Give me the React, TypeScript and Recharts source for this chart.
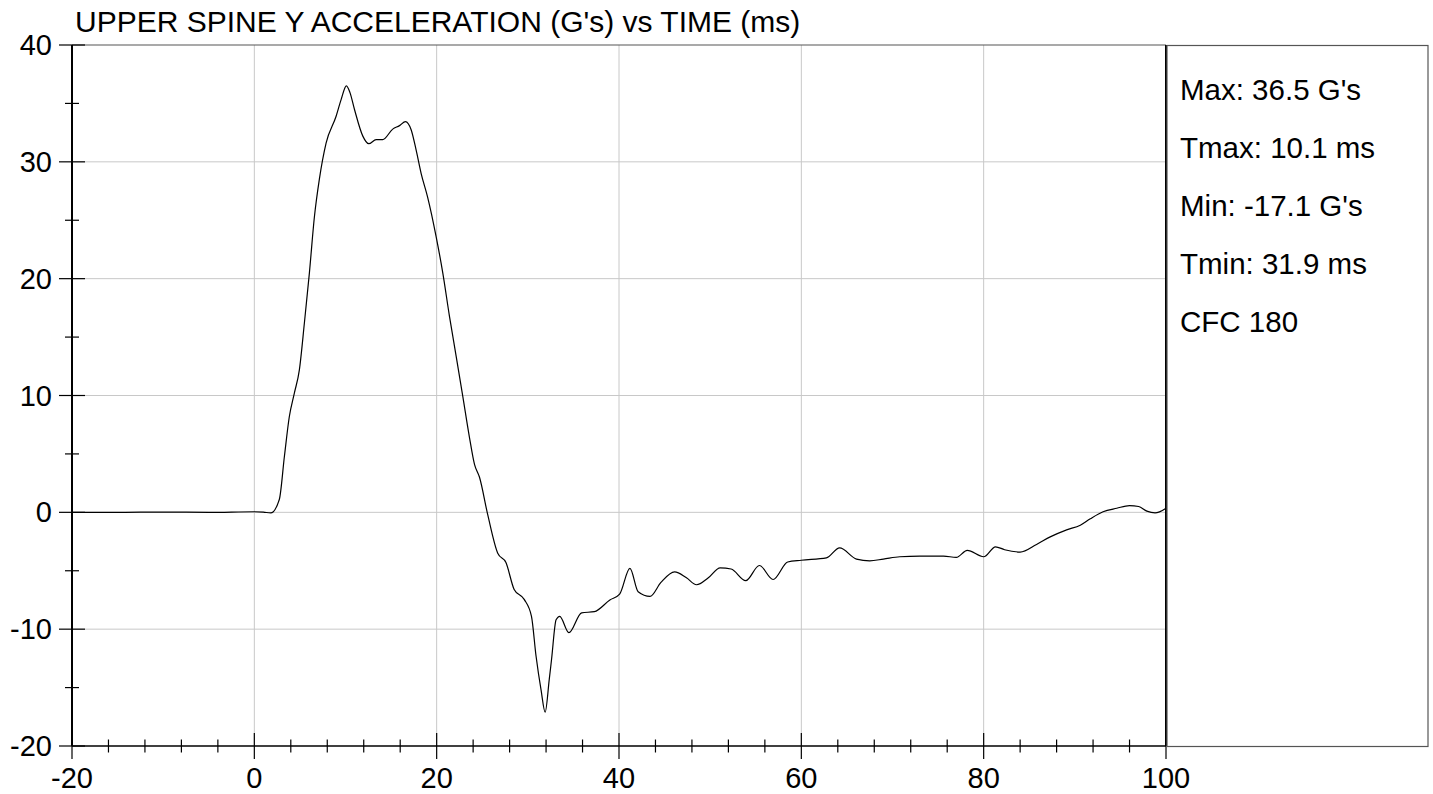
import { LineChart, Line, XAxis, YAxis, ReferenceLine } from "recharts";

// time (ms) and upper spine Y acceleration (G's)
const TIME = [
  -20, -15, -10, -5, 0, 1, 1.8, 2.74, 3.3, 3.84, 4.39, 4.94, 5.49, 6.04, 6.59, 7.13, 7.87, 8.97, 9.51, 10.1,
  10.5, 10.98, 11.9, 12.55, 13.36, 14.08, 15.18, 15.92, 16.58, 17.2, 17.75, 18.3, 19.0, 19.94, 20.67, 21.4,
  22.14, 22.87, 23.6, 24.15, 24.7, 25.6, 26.7, 27.6, 28.5, 29.6, 30.4, 30.9, 31.45, 31.9, 32.35, 32.6, 33.1,
  33.5, 34.5, 35.9, 37.3, 39.0, 40.07, 41.2, 42.1, 43.4, 44.6, 46.1, 47.4, 48.5, 49.8, 51.1, 52.3, 53.9,
  55.4, 56.9, 58.5, 60.0, 62.75, 64.2, 66.05, 67.5, 69.0, 70.8, 73.0, 75.6, 77.0, 78.2, 80.0, 81.3, 82.3,
  84.0, 85.8, 87.3, 89.1, 90.6, 91.7, 93.1, 94.6, 96.0, 97.0, 97.9, 98.8, 100,
];
const ACCEL = [
  0, 0, 0.02, 0, 0.05, 0.02, -0.05, 1.1, 4.8, 8.2, 10.2, 12.2, 16.2, 20.5, 25.3, 28.5, 31.6, 33.9, 35.3, 36.5,
  35.9, 34.5, 32.2, 31.55, 31.9, 31.9, 32.8, 33.1, 33.45, 32.75, 31.0, 29.0, 27.0, 23.6, 20.5, 16.8,
  13.35, 9.9, 6.4, 4.1, 3.0, -0.2, -3.5, -4.3, -6.6, -7.45, -8.9, -12.3, -15.2, -17.1, -14.3, -12.6, -9.2,
  -8.9, -10.3, -8.6, -8.5, -7.5, -7.0, -4.8, -6.8, -7.2, -6.0, -5.1, -5.6, -6.2, -5.6, -4.75, -4.85, -5.85,
  -4.55, -5.75, -4.25, -4.1, -3.9, -3.05, -4.0, -4.15, -4.0, -3.8, -3.75, -3.75, -3.85, -3.25, -3.8, -2.95, -3.2,
  -3.4, -2.75, -2.1, -1.5, -1.1, -0.55, 0.05, 0.35, 0.58, 0.5, 0.1, -0.05, 0.35,
];

const X_TICKS = [-20, -16, -12, -8, -4, 0, 4, 8, 12, 16, 20, 24, 28, 32, 36, 40, 44, 48, 52, 56, 60, 64, 68, 72, 76, 80, 84, 88, 92, 96, 100];
const Y_TICKS = [-20, -15, -10, -5, 0, 5, 10, 15, 20, 25, 30, 35, 40];
const X_GRID = [0, 20, 40, 60, 80];
const Y_GRID = [-10, 0, 10, 20, 30];

const TITLE = "UPPER SPINE Y ACCELERATION (G's) vs TIME (ms)";
const STATS = ["Max: 36.5 G's", "Tmax: 10.1 ms", "Min: -17.1 G's", "Tmin: 31.9 ms", "CFC 180"];

const FONT = "'Liberation Sans', Arial, sans-serif";

const data = TIME.map((t, i) => ({ t, g: ACCEL[i] }));

const XTick = (props: any) => {
  const { x, y, payload } = props;
  const major = payload.value % 20 === 0;
  const h = major ? 13 : 6.5;
  return (
    <g>
      <line x1={x} x2={x} y1={y - h} y2={y + h} stroke="#000" strokeWidth={1.2} />
      {major && (
        <text x={x} y={y + 42} textAnchor="middle" fontSize={29} fontFamily={FONT} fill="#000">
          {payload.value}
        </text>
      )}
    </g>
  );
};

const YTick = (props: any) => {
  const { x, y, payload } = props;
  const major = payload.value % 10 === 0;
  const w = major ? 13 : 7;
  return (
    <g>
      <line x1={x - w} x2={x + w} y1={y} y2={y} stroke="#000" strokeWidth={1.2} />
      {major && (
        <text x={x - 20} y={y + 10} textAnchor="end" fontSize={29} fontFamily={FONT} fill="#000">
          {payload.value}
        </text>
      )}
    </g>
  );
};

export default function App() {
  return (
    <div style={{ position: "relative", width: 1433, height: 794, background: "#fff" }}>
      <style>{"body{margin:0}"}</style>
      <LineChart width={1433} height={794} data={data} margin={{ top: 45, right: 267, bottom: 0, left: 0 }}>
        <XAxis
          dataKey="t"
          type="number"
          domain={[-20, 100]}
          ticks={X_TICKS}
          interval={0}
          height={48}
          tickSize={0}
          tickMargin={0}
          tickLine={false}
          tick={<XTick />}
          axisLine={{ stroke: "#000", strokeWidth: 1.5 }}
          allowDataOverflow
        />
        <YAxis
          type="number"
          domain={[-20, 40]}
          ticks={Y_TICKS}
          interval={0}
          width={72}
          tickSize={0}
          tickMargin={0}
          tickLine={false}
          tick={<YTick />}
          axisLine={{ stroke: "#000", strokeWidth: 2 }}
          allowDataOverflow
        />
        {X_GRID.map((v) => (
          <ReferenceLine key={"x" + v} x={v} stroke="#c8c8c8" strokeWidth={1} />
        ))}
        {Y_GRID.map((v) => (
          <ReferenceLine key={"y" + v} y={v} stroke="#c8c8c8" strokeWidth={1} />
        ))}
        <ReferenceLine y={40} stroke="#555" strokeWidth={1.2} />
        <Line
          dataKey="g"
          type="monotone"
          stroke="#000"
          strokeWidth={1.2}
          dot={false}
          activeDot={false}
          isAnimationActive={false}
        />
        <ReferenceLine x={100} stroke="#000" strokeWidth={2} />
      </LineChart>
      <svg
        width={1433}
        height={794}
        style={{ position: "absolute", left: 0, top: 0, pointerEvents: "none" }}
        fontFamily={FONT}
      >
        <text x={75} y={32} fontSize={30} fill="#000">
          {TITLE}
        </text>
        <rect x={1167} y={45.5} width={261} height={701} fill="none" stroke="#555" strokeWidth={1.2} />
        {STATS.map((s, i) => (
          <text key={s} x={1180} y={100 + i * 58} fontSize={29.5} fill="#000">
            {s}
          </text>
        ))}
      </svg>
    </div>
  );
}
